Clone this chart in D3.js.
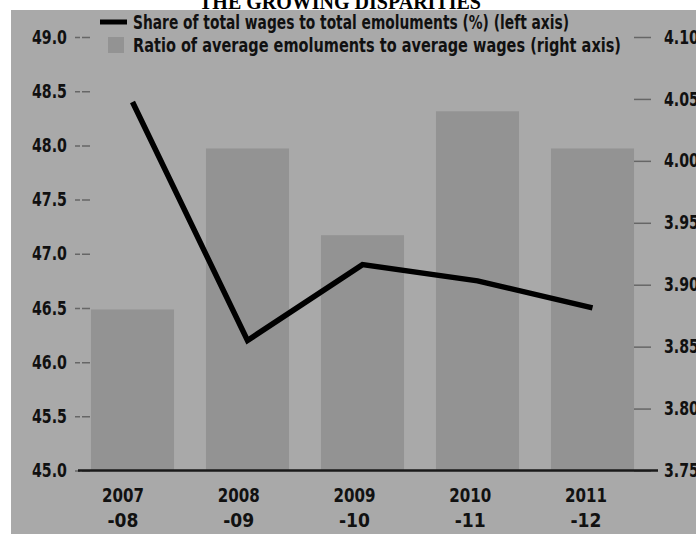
<!DOCTYPE html>
<html>
<head>
<meta charset="utf-8">
<script src="https://cdn.jsdelivr.net/npm/d3@7"></script>
<style>
  html, body { margin: 0; padding: 0; background: #ffffff; }
  svg { display: block; }
</style>
</head>
<body>
<script>
// ---- data ----
const categories = ["2007-08", "2008-09", "2009-10", "2010-11", "2011-12"];
const labelTop = ["2007", "2008", "2009", "2010", "2011"];
const labelBottom = ["-08", "-09", "-10", "-11", "-12"];
const shareWages = [48.4, 46.2, 46.9, 46.75, 46.5];      // left axis (%)
const ratioEmol = [3.88, 4.01, 3.94, 4.04, 4.01];        // right axis
const leftTicks = [45.0, 45.5, 46.0, 46.5, 47.0, 47.5, 48.0, 48.5, 49.0];
const rightTicks = [3.75, 3.80, 3.85, 3.90, 3.95, 4.00, 4.05, 4.10];
const titleText = "THE GROWING DISPARITIES";
const legendLine = "Share of total wages to total emoluments (%) (left axis)";
const legendBar = "Ratio of average emoluments to average wages (right axis)";

// ---- layout ----
const W = 696, H = 534;
const FONT = "'DejaVu Sans', sans-serif";
const bg = "#a9a9a9", barColor = "#939393";

const svg = d3.select("body").append("svg").attr("width", W).attr("height", H);

// panel background
svg.append("rect").attr("x", 0).attr("y", 0).attr("width", W).attr("height", H).attr("fill", "#ffffff");
svg.append("rect").attr("x", 11).attr("y", 10).attr("width", W - 11).attr("height", H - 10).attr("fill", bg);

// title (cut off at the top)
svg.append("text")
  .attr("x", 340).attr("y", 9)
  .attr("text-anchor", "middle")
  .attr("font-family", "'Liberation Serif', 'Times New Roman', serif")
  .attr("font-weight", "bold")
  .attr("font-size", 20)
  .attr("fill", "#000")
  .text(titleText);

// scales
const x = d3.scaleBand().domain(categories).range([75, 650]).paddingInner(0.278).paddingOuter(0.139);
const xLab = d3.scalePoint().domain(categories).range([123, 586]);
const yL = d3.scaleLinear().domain([45, 49]).range([470.5, 37]);
const yR = d3.scaleLinear().domain([3.75, 4.10]).range([470.5, 37]);

// bars
svg.append("g").selectAll("rect").data(categories).join("rect")
  .attr("x", d => x(d))
  .attr("width", x.bandwidth())
  .attr("y", (d, i) => yR(ratioEmol[i]))
  .attr("height", (d, i) => yR(3.75) - yR(ratioEmol[i]))
  .attr("fill", barColor);

function condensed(sel, size, len) {
  sel.attr("font-family", FONT).attr("font-weight", "bold").attr("font-size", size).attr("fill", "#111")
    .attr("textLength", len).attr("lengthAdjust", "spacingAndGlyphs");
}

// left axis
const gL = svg.append("g").attr("transform", "translate(90,0)")
  .call(d3.axisLeft(yL).tickValues(leftTicks).tickFormat(d3.format(".1f")).tickSize(15).tickPadding(8));
gL.select(".domain").remove();
gL.selectAll(".tick line").attr("stroke", "#666").attr("stroke-width", 1.5).attr("stroke-dasharray", "8,2,5");
condensed(gL.selectAll(".tick text"), 19, 35);

// right axis
const gR = svg.append("g").attr("transform", "translate(634,0)")
  .call(d3.axisRight(yR).tickValues(rightTicks).tickFormat(d3.format(".2f")).tickSize(17).tickPadding(13));
gR.select(".domain").remove();
gR.selectAll(".tick line").attr("stroke", "#666").attr("stroke-width", 1.5);
condensed(gR.selectAll(".tick text"), 19, 35);

// baseline
svg.append("line").attr("x1", 78).attr("x2", 658).attr("y1", yL(45)).attr("y2", yL(45))
  .attr("stroke", "#1a1a1a").attr("stroke-width", 2.5);

// x labels
const gX = svg.append("g");
gX.selectAll("text.top").data(categories).join("text").attr("class", "top")
  .attr("x", d => xLab(d)).attr("y", 502).attr("text-anchor", "middle")
  .call(condensed, 20, 42)
  .text((d, i) => labelTop[i]);
gX.selectAll("text.bot").data(categories).join("text").attr("class", "bot")
  .attr("x", d => xLab(d)).attr("y", 527).attr("text-anchor", "middle")
  .call(condensed, 20, 31)
  .text((d, i) => labelBottom[i]);

// line
const line = d3.line().x(d => x(d) + x.bandwidth() / 2).y((d, i) => yL(shareWages[i]));
svg.append("path").datum(categories).attr("d", line)
  .attr("fill", "none").attr("stroke", "#000").attr("stroke-width", 5.5).attr("stroke-linejoin", "miter");

// legend
const lg = svg.append("g");
lg.append("line").attr("x1", 100).attr("x2", 127).attr("y1", 22).attr("y2", 22).attr("stroke", "#000").attr("stroke-width", 5);
lg.append("rect").attr("x", 108).attr("y", 37).attr("width", 16).attr("height", 16).attr("fill", barColor);
lg.append("text").attr("x", 133).attr("y", 29).call(condensed, 19, 436).text(legendLine);
lg.append("text").attr("x", 133).attr("y", 52).call(condensed, 19, 488).text(legendBar);
</script>
</body>
</html>
